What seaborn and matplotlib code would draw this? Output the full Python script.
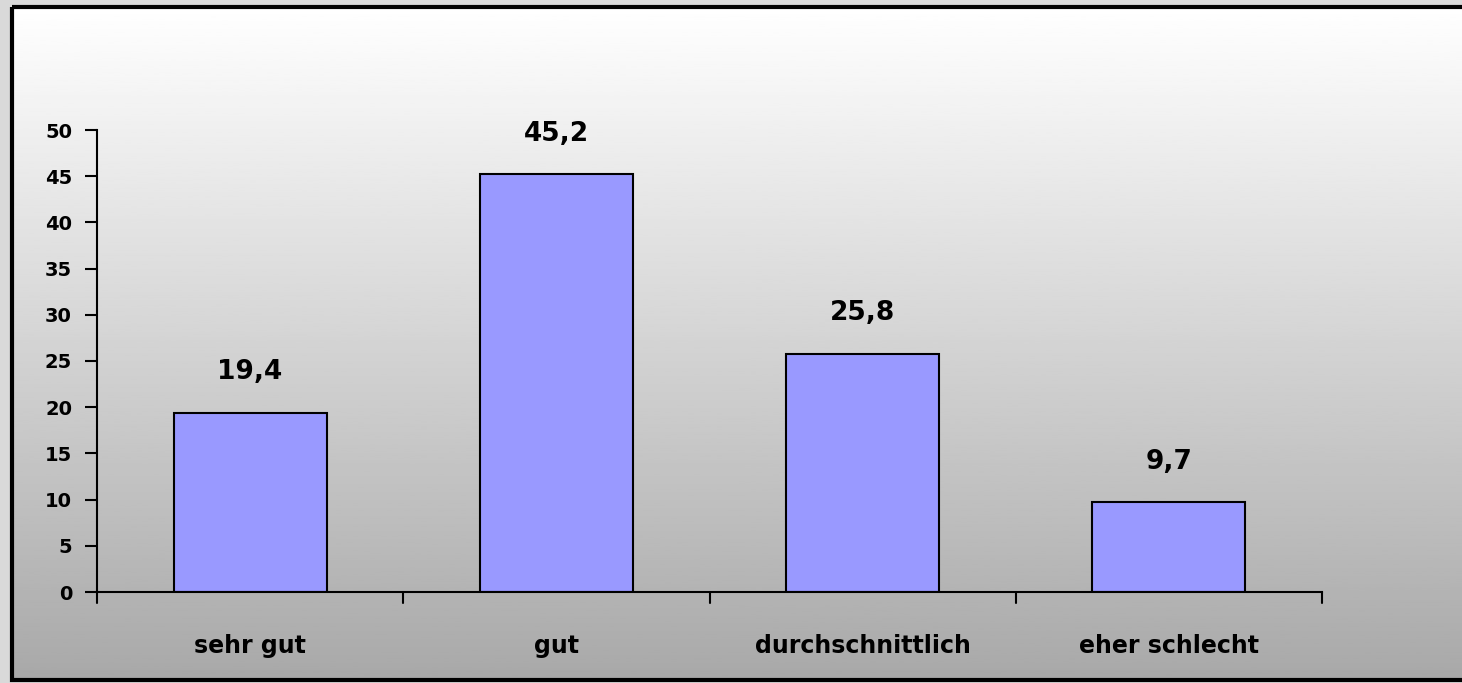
import matplotlib
matplotlib.use("Agg")
import matplotlib.pyplot as plt
import numpy as np
import pandas as pd
import seaborn as sns
from matplotlib.patches import Rectangle

categories = ["sehr gut", "gut", "durchschnittlich", "eher schlecht"]
values = [19.4, 45.2, 25.8, 9.7]
value_labels = ["19,4", "45,2", "25,8", "9,7"]
y_ticks = [0, 5, 10, 15, 20, 25, 30, 35, 40, 45, 50]

sns.set_theme(style="white")
plt.rcParams["font.family"] = ["DejaVu Sans"]
plt.rcParams["text.color"] = "black"
plt.rcParams["xtick.color"] = "black"
plt.rcParams["ytick.color"] = "black"

W, H = 1462, 683
fig = plt.figure(figsize=(W / 100, H / 100), dpi=100)
fig.patch.set_facecolor("#d9d9d9")

# background with frame and vertical gradient
bg = fig.add_axes([0, 0, 1, 1], zorder=0)
bg.set_xlim(0, W)
bg.set_ylim(H, 0)
bg.axis("off")
grad = np.linspace(1.0, 0.66, 256).reshape(-1, 1)
bg.imshow(grad, cmap="gray", vmin=0, vmax=1, aspect="auto",
          extent=[12, W + 5, 680, 7], zorder=1)
bg.add_patch(Rectangle((12, 7), W, 673, fill=False, edgecolor="black",
                       linewidth=3, zorder=2))

ax = fig.add_axes([97 / W, 1 - 592 / H, (1322 - 97) / W, (592 - 130) / H], zorder=1)
ax.patch.set_alpha(0)

df = pd.DataFrame({"cat": categories, "val": values})
sns.barplot(data=df, x="cat", y="val", ax=ax, color="#9999ff", saturation=1,
            width=0.5, edgecolor="black", linewidth=1.5)

ax.set_xlim(-0.5, 3.5)
ax.set_ylim(0, 50)
ax.set_yticks(y_ticks)
ax.set_yticklabels([str(t) for t in y_ticks], fontsize=14, fontweight="bold")
ax.set_xticks(np.arange(len(categories)))
ax.set_xticklabels(categories, fontsize=17, fontweight="bold")
ax.tick_params(axis="x", length=0, pad=30)
ax.tick_params(axis="y", length=9, width=1.5, color="black", left=True, pad=9)
for b in np.arange(-0.5, 4, 1):
    ax.plot([b, b], [0, -1.2], color="black", lw=1.5, clip_on=False)

for s in ["top", "right"]:
    ax.spines[s].set_visible(False)
for s in ["left", "bottom"]:
    ax.spines[s].set_color("black")
    ax.spines[s].set_linewidth(1.5)
ax.set_xlabel("")
ax.set_ylabel("")

for i, (v, lab) in enumerate(zip(values, value_labels)):
    ax.text(i, v + 3, lab, ha="center", va="bottom", fontsize=19,
            fontweight="bold", color="black")

fig.savefig("out.png", dpi=100, facecolor=fig.get_facecolor())
